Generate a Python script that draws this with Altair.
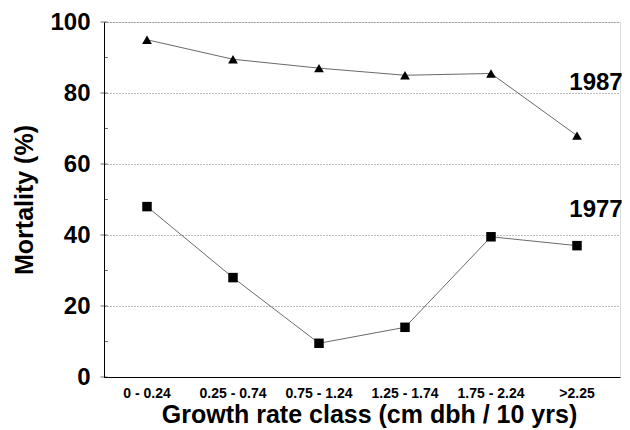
import altair as alt
import pandas as pd

categories = ["0 - 0.24", "0.25 - 0.74", "0.75 - 1.24", "1.25 - 1.74", "1.75 - 2.24", ">2.25"]
mort_1987 = [95, 89.5, 87, 85, 85.5, 68]
mort_1977 = [48, 28, 9.5, 14, 39.5, 37]
label_text = ["1987", "1977"]
label_y = [82.7, 47]
major_ticks = [0, 20, 40, 60, 80, 100]
minor_ticks = [10, 30, 50, 70, 90]

rows = []
for c, v in zip(categories, mort_1987):
    rows.append({"cls": c, "mort": v, "year": "1987"})
for c, v in zip(categories, mort_1977):
    rows.append({"cls": c, "mort": v, "year": "1977"})
df = pd.DataFrame(rows)

lab = pd.DataFrame({"cls": [categories[-1]] * 2, "mort": label_y, "txt": label_text})

FONT = "Liberation Sans"
yscale = alt.Scale(domain=[0, 100], nice=False)
xscale = alt.Scale(domain=categories, paddingInner=0, paddingOuter=0)

x = alt.X("cls:N", sort=categories, scale=xscale,
          axis=alt.Axis(title="Growth rate class (cm dbh / 10 yrs)", labelAngle=0,
                        labelFont=FONT, labelFontSize=14, labelFontWeight="bold", labelColor="black",
                        titleFont=FONT, titleFontSize=25, titleFontWeight="bold", titleColor="black",
                        titlePadding=2, titleX=265, ticks=False, labelPadding=9,
                        domainColor="black", grid=False))
y = alt.Y("mort:Q", scale=yscale,
          axis=alt.Axis(title="Mortality (%)", values=major_ticks,
                        labelFont=FONT, labelFontSize=24, labelFontWeight="bold", labelColor="black",
                        titleFont=FONT, titleFontSize=25, titleFontWeight="bold", titleColor="black",
                        titlePadding=12, ticks=False, labelPadding=14,
                        domainColor="black", grid=True, gridColor="#555", gridDash=[1, 2],
                        gridWidth=0.8))

base = alt.Chart(df)
lines = base.mark_line(color="#444", strokeWidth=0.8).encode(x=x, y=y, detail="year:N")
tri = base.transform_filter(alt.datum.year == "1987").mark_point(
    shape="triangle-up", filled=True, color="black", size=95, opacity=1).encode(x=x, y=y)
sq = base.transform_filter(alt.datum.year == "1977").mark_point(
    shape="square", filled=True, color="black", size=90, opacity=1).encode(x=x, y=y)
ymajor = alt.Chart(pd.DataFrame({"m": major_ticks})).mark_tick(
    color="black", thickness=0.8, size=7).encode(
    y=alt.Y("m:Q", scale=yscale), x=alt.value(0))
yminor = alt.Chart(pd.DataFrame({"m": minor_ticks})).mark_tick(
    color="black", thickness=0.8, size=4, xOffset=2).encode(
    y=alt.Y("m:Q", scale=yscale), x=alt.value(0))
xt = alt.Chart(pd.DataFrame({"cls": categories})).mark_tick(
    color="black", thickness=0.8, size=10).encode(
    x=alt.X("cls:N", sort=categories, scale=xscale), y=alt.value(355))
labels = alt.Chart(lab).mark_text(font=FONT, fontSize=24, fontWeight="bold", color="black", dx=19).encode(
    x=alt.X("cls:N", sort=categories), y=alt.Y("mort:Q"), text="txt:N")

chart = alt.layer(lines, tri, sq, ymajor, yminor, xt, labels).properties(
    width=516, height=355,
    padding={"left": 96, "top": 14, "right": 2, "bottom": 58},
    autosize=alt.AutoSizeParams(type="none")
).configure_view(stroke="#666", strokeWidth=1).configure(background="white")

chart.save("out.html", embed_options={"renderer": "svg", "actions": False})
